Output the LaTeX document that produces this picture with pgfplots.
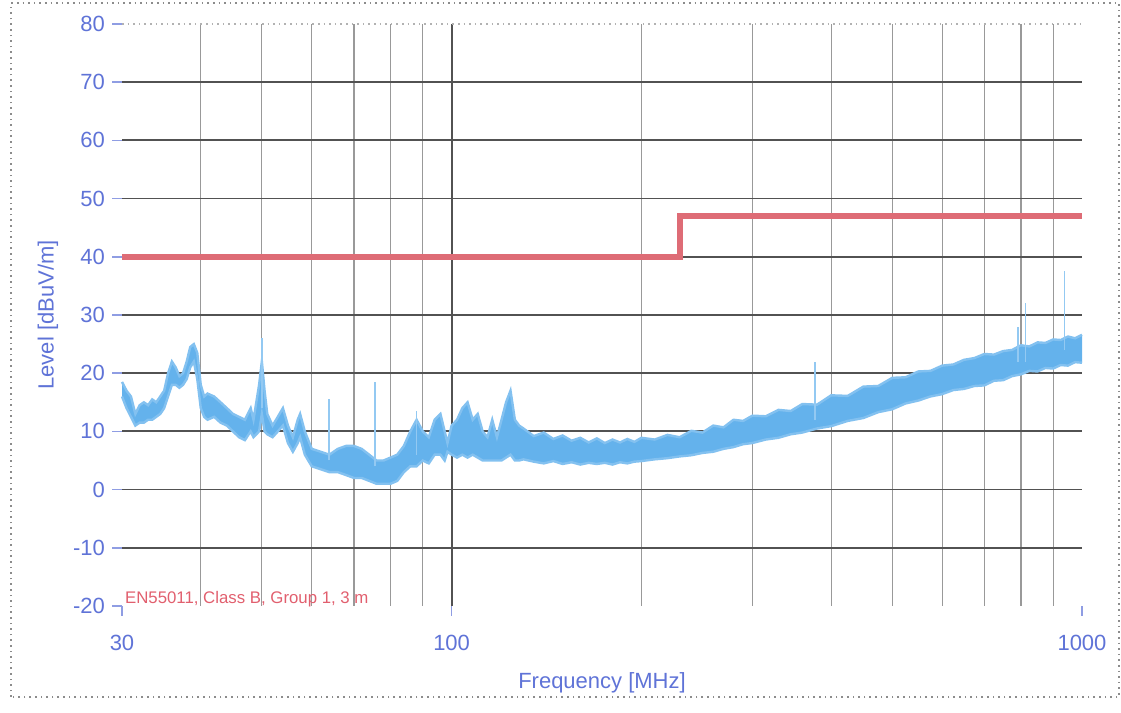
\documentclass[border=0pt]{standalone}
\usepackage{fontspec}
\setmainfont{Liberation Sans}
\usepackage{pgfplots}
\pgfplotsset{compat=1.18}
\usepackage{pgfplotstable}
\usepgfplotslibrary{fillbetween}
\definecolor{bandblue}{RGB}{100,178,236}
\definecolor{limred}{RGB}{222,108,118}
\definecolor{labblue}{RGB}{95,115,215}
\definecolor{txtred}{RGB}{225,95,110}

\pgfplotstableread{
f top bot
30 18.5 16
30.5 17 14
31 16 12.5
31.5 13 11
32 14.5 11.5
32.5 15 11.5
33 14.5 12
33.5 15.5 12
34 15 12.5
34.5 16 13
35 17 14
35.5 20 16
36 22 18
36.5 21 18
37 19.5 17.5
37.5 20 18
38 22 19
38.5 24.5 21
39 25 22
39.5 23.5 19
40 18 14
40.5 16 12.5
41 16.5 12
42 16 12.5
43 15 11.5
44 14 11
45 13 10
46 12.5 9
47 12 8.5
48 14 10
48.5 12 9
49.5 18 10
50 22 13
50.5 17 10
51 13 9.5
52 11 9
53 12.5 10
54 14 11
55 11 8
56 9 6.5
57 12 8
57.5 13 9
58.5 10 6
60 7 4
62 6.5 3.5
64 6 3
66 7 3
68 7.5 2.5
70 7.5 2
72 7 2
74 6 1.5
76 5 1
78 5 1
80 5.5 1
82 6 1.5
84 7.5 3
86 10 4
88 12 4
90 10 5
92 9 4.5
94 12 6
96 13 6
97.5 10 5
98.5 8 6.5
100 11 6
102 12 5.5
104 14 6
106 15 5.5
108 12 6
110 13 5.5
112 10 5
114 9 5
116 12 5
118 9 5
120 12 5
122 15 5.5
124 17 6
126 12 5
128 11 5
130 10.5 5.2
135 9.2 4.8
140 9.8 4.5
145 8.7 4.9
150 9.3 4.4
155 8.4 4.7
160 8.9 4.3
165 8.1 4.6
170 8.8 4.4
175 8.0 4.6
180 8.6 4.3
185 8.1 4.7
190 8.7 4.5
195 8.2 4.8
200 8.9 4.9
210 8.6 5.2
220 9.4 5.4
230 9.0 5.7
240 10.1 5.9
250 9.8 6.3
260 11.0 6.5
270 10.7 7.0
280 12.0 7.3
290 11.8 7.8
300 12.7 8.0
315 12.6 8.6
330 13.7 8.9
345 13.5 9.5
360 14.7 9.8
380 14.6 10.5
400 16.2 10.9
425 16.1 11.8
450 17.7 12.3
475 17.8 13.3
500 19.2 13.8
525 19.3 14.8
550 20.3 15.3
575 20.4 16.0
600 21.3 16.4
625 21.5 17.1
650 22.3 17.3
675 22.6 17.8
700 23.3 17.9
725 23.2 18.7
750 23.8 18.8
775 24.0 19.5
800 24.8 19.8
825 24.6 20.4
850 25.3 20.3
875 25.2 20.9
900 25.8 20.8
925 25.7 21.4
950 26.3 21.3
975 26.0 21.9
1000 26.6 21.8
}\banddata

\begin{document}
\begin{tikzpicture}
\draw[black!45, dotted, line width=0.8pt] (5.5pt,8pt) rectangle (559.5pt,355pt);
\begin{axis}[
  at={(61pt,53.5pt)}, anchor=south west,
  scale only axis, width=480pt, height=291pt,
  xmode=log, xmin=30, xmax=1000, ymin=-20, ymax=80,
  axis line style={draw=none},
  xtick={30,100,1000}, xticklabels={30,100,1000},
  minor xtick={40,50,60,70,80,90,200,300,400,500,600,700,800,900},
  ytick={-20,-10,0,10,20,30,40,50,60,70,80},
  xtick pos=lower, ytick pos=left,
  /pgf/number format/assume math mode=true,
  tick align=outside,
  major tick length=5pt, minor tick length=0pt,
  tick style={labblue!70, line width=0.8pt},
  xminorgrids, minor x grid style={black!40, line width=0.6pt},
  extra x ticks={100}, extra x tick labels={},
  extra y ticks={-10,0,10,20,30,40,50,60,70}, extra y tick labels={},
  extra tick style={major tick length=0pt, grid=major, major grid style={black!68, line width=0.9pt}},
  ticklabel style={font=\fontsize{11}{13}\selectfont, text=labblue},
  xticklabel style={yshift=-6pt},
  xlabel={Frequency [MHz]}, ylabel={Level [dBuV/m]},
  label style={font=\fontsize{11}{13}\selectfont, text=labblue},
  xlabel style={at={(axis description cs:0.5,-0.1323)}, anchor=center},
  ylabel style={at={(axis description cs:-0.0771,0.5)}, anchor=center},
  clip=false,
]
\draw[black!30, dotted, line width=0.8pt] (rel axis cs:0,1) -- (rel axis cs:1,1);
\addplot[name path=top, draw=bandblue!80, line width=1.2pt] table[x=f,y=top] {\banddata};
\addplot[name path=bot, draw=bandblue!80, line width=1.2pt] table[x=f,y=bot] {\banddata};
\addplot[fill=bandblue, draw=none] fill between[of=top and bot];
\addplot[bandblue!70, line width=0.7pt, unbounded coords=jump] coordinates {
 (50,14) (50,26) (50.1,nan)
 (63.9,5) (63.9,15.5) (64,nan)
 (75.6,4) (75.6,18.5) (75.7,nan)
 (88,6) (88,13.5) (88.1,nan)
 (377,12) (377,22) (378,nan)
 (792,22) (792,28) (793,nan)
 (813,22) (813,32) (814,nan)
 (939,24) (939,37.5)
};
\addplot[limred, line width=3pt, const plot] coordinates {(30,40) (230,47) (1000,47)};
\node[anchor=base west, inner sep=0pt, font=\fontsize{8.4}{10}\selectfont, text=txtred] at (axis cs:30.3,-19.5) {EN55011, Class B, Group 1, 3 m};
\end{axis}
\pgfresetboundingbox
\useasboundingbox (0,0) rectangle (560.5pt,356.5pt);
\end{tikzpicture}
\end{document}
